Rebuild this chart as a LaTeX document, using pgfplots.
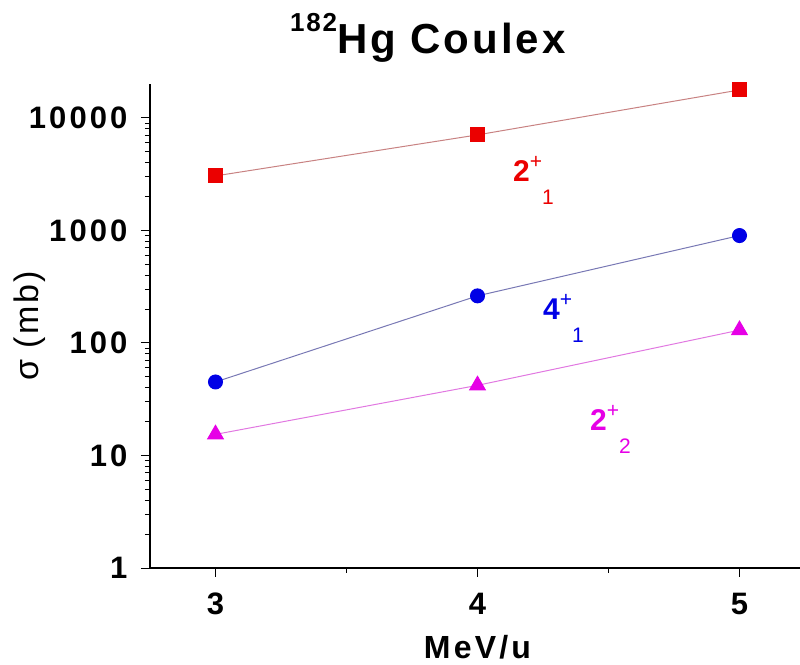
\documentclass[border=0pt]{standalone}
\usepackage{pgfplots}
\pgfplotsset{compat=1.18}
\usepackage{fontspec}
\setmainfont{Liberation Sans}
\newfontfamily\wide[LetterSpace=10]{Liberation Sans}
\newfontfamily\wideb[LetterSpace=7]{Liberation Sans}
\definecolor{cred}{RGB}{235,0,0}
\definecolor{cblue}{RGB}{0,0,230}
\definecolor{cmag}{RGB}{230,0,230}
\definecolor{lred}{RGB}{200,130,130}
\definecolor{lblue}{RGB}{120,120,180}
\definecolor{lmag}{RGB}{225,120,225}
\begin{document}
\begin{tikzpicture}[x=1pt,y=1pt]
\path[use as bounding box] (-150,-96) rectangle (650,568);
\begin{axis}[
 at={(0,0)}, anchor=south west,
 scale only axis, width=655pt, height=484pt,
 xmin=2.75, xmax=5.25, ymode=log, ymin=1, ymax=20000,
 axis x line*=bottom, axis y line*=left,
 axis line style={line width=1.2pt,-},
 tick align=outside,
 xtick={3,4,5}, xticklabels={3,4,5}, minor xtick={3.5,4.5},
 ytick={1,10,100,1000,10000}, yticklabels={1,10,100,1000,10000},
 major tick length=9pt, minor tick length=5pt,
 every tick/.style={black, line width=1pt},
 tick label style={font=\wide\fontsize{31}{31}\selectfont\bfseries},
 xticklabel style={anchor=base, yshift=-38pt},
 yticklabel style={anchor=east, xshift=-10pt},
 xlabel={\bfseries MeV/u},
 xlabel style={at={(rel axis cs:0.5,0)}, anchor=base, yshift=-90pt, font=\wide\fontsize{32}{32}\selectfont},
 ylabel={σ (mb)},
 ylabel style={at={(rel axis cs:0,0.5)}, anchor=center, yshift=120pt, font=\wideb\fontsize{34}{34}\selectfont},
 clip=false,
]
\addplot[color=lred, line width=1pt, mark=square*, mark size=7pt,
  mark options={fill=cred, draw=cred}] coordinates {(3,3050) (4,7060) (5,17700)};
\addplot[color=lblue, line width=1pt, mark=*, mark size=7pt,
  mark options={fill=cblue, draw=cblue}] coordinates {(3,45) (4,262) (5,900)};
\addplot[color=lmag, line width=1pt, mark=triangle*, mark size=9pt,
  mark options={fill=cmag, draw=cmag}] coordinates {(3,15.4) (4,42) (5,130)};
\node[anchor=base west, text=cred, inner sep=0pt] at (axis cs:4.135,2700)
 {\fontsize{30}{30}\selectfont\bfseries 2\raisebox{13pt}{\fontsize{21}{21}\selectfont\mdseries +}\raisebox{-23pt}{\fontsize{21}{21}\selectfont\mdseries 1}};
\node[anchor=base west, text=cblue, inner sep=0pt] at (axis cs:4.25,163)
 {\fontsize{30}{30}\selectfont\bfseries 4\raisebox{13pt}{\fontsize{21}{21}\selectfont\mdseries +}\raisebox{-23pt}{\fontsize{21}{21}\selectfont\mdseries 1}};
\node[anchor=base west, text=cmag, inner sep=0pt] at (axis cs:4.429,16.7)
 {\fontsize{30}{30}\selectfont\bfseries 2\raisebox{13pt}{\fontsize{21}{21}\selectfont\mdseries +}\raisebox{-23pt}{\fontsize{21}{21}\selectfont\mdseries 2}};
\end{axis}
\node[anchor=base west, inner sep=0pt] at (140,514)
 {\wideb\raisebox{22pt}{\fontsize{26}{26}\selectfont\bfseries 182}\fontsize{42}{42}\selectfont\bfseries Hg Coulex};
\end{tikzpicture}
\end{document}
